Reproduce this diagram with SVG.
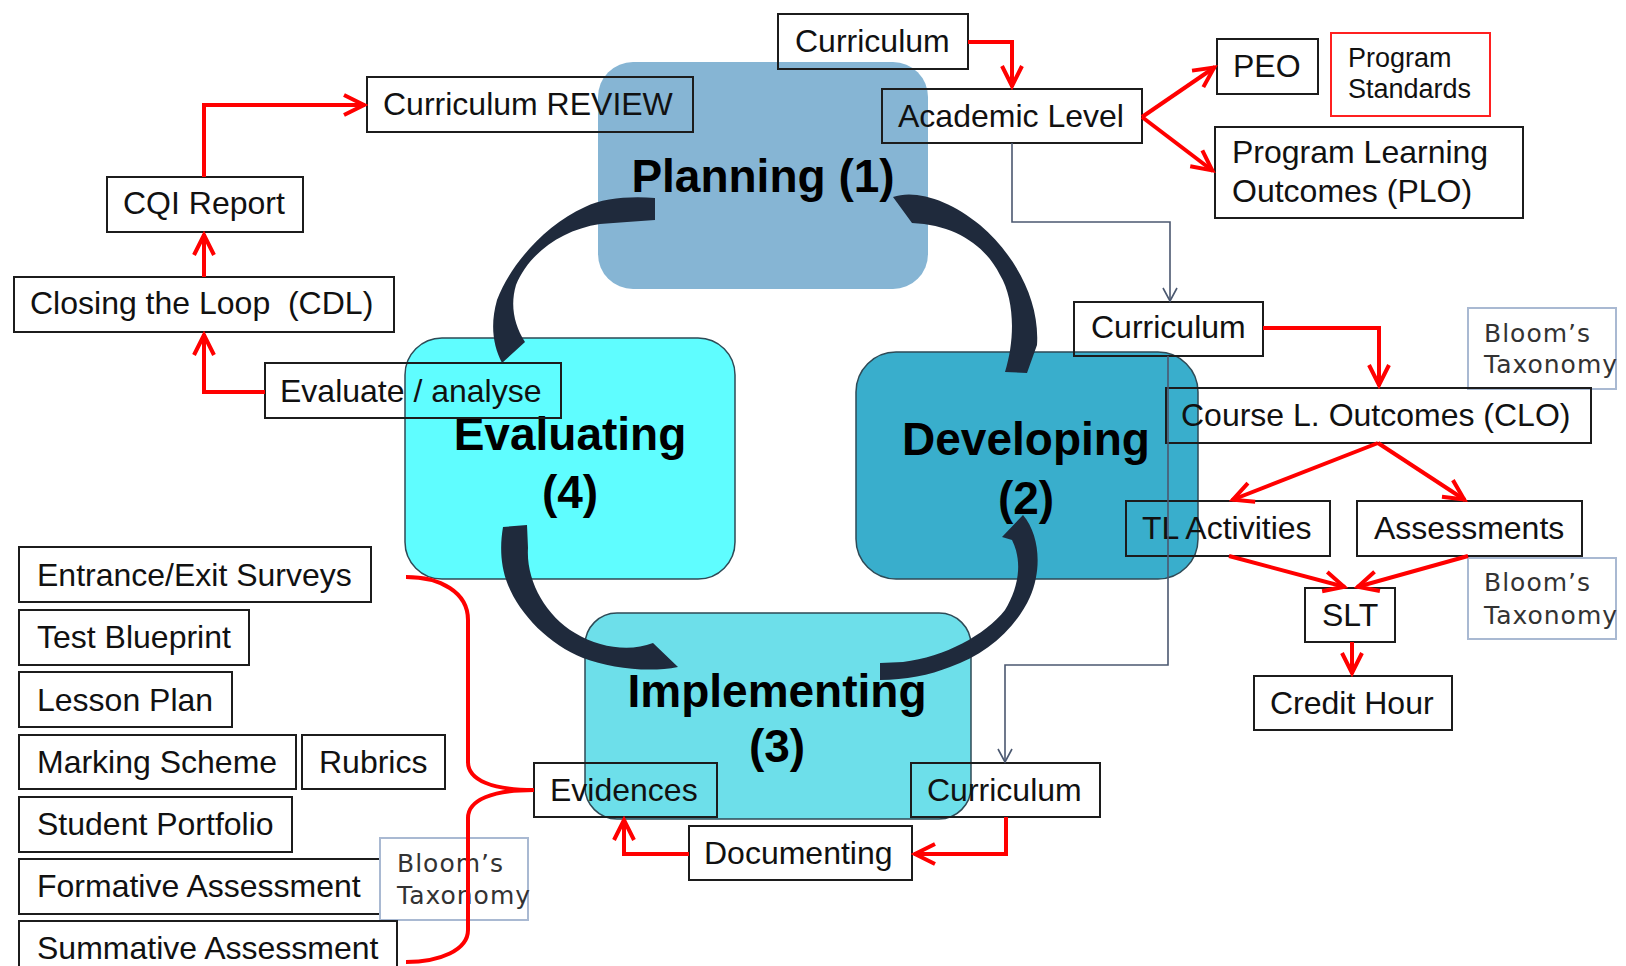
<svg xmlns="http://www.w3.org/2000/svg" width="1626" height="966" viewBox="0 0 1626 966">
<defs>
<style>
.box{fill:none;stroke:#1c1c1c;stroke-width:2}
.bbox{fill:none;stroke:#a9b9d2;stroke-width:2}
.rbox{fill:none;stroke:#ff2020;stroke-width:2}
.t{font-family:"Liberation Sans",Arial,sans-serif;font-size:32px;fill:#111}
.ts{font-family:"Liberation Sans",Arial,sans-serif;font-size:27px;fill:#111}
.bl{font-family:"DejaVu Sans",sans-serif;font-size:25px;letter-spacing:1px;fill:#333}
.big{font-family:"Liberation Sans",Arial,sans-serif;font-size:46px;font-weight:bold;fill:#000;text-anchor:middle}
.red{fill:none;stroke:#ff0000;stroke-width:4;marker-end:url(#ra)}
.redb{fill:none;stroke:#ff0000;stroke-width:4}
.grey{fill:none;stroke:#4b5870;stroke-width:1.6;marker-end:url(#ga)}
.carrow{fill:#1f2a3c}
.blob{stroke:#2e4a56;stroke-width:1.5}
</style>
<marker id="ra" viewBox="-24 -14 28 28" refX="1" refY="0" markerWidth="28" markerHeight="28" markerUnits="userSpaceOnUse" orient="auto">
<path d="M-20,-10 L0,0 L-20,10" fill="none" stroke="#ff0000" stroke-width="4"/>
</marker>
<marker id="ga" viewBox="-16 -10 18 20" refX="0" refY="0" markerWidth="18" markerHeight="20" markerUnits="userSpaceOnUse" orient="auto">
<path d="M-13,-7 L0,0 L-13,7" fill="none" stroke="#4b5870" stroke-width="1.6"/>
</marker>
</defs>
<rect width="1626" height="966" fill="#ffffff"/>

<g id="planning">
<rect x="598" y="62" width="330" height="227" rx="35" fill="#86b5d4"/>
<text class="big" x="763" y="192">Planning (1)</text>
</g>
<g id="evaluating">
<rect class="blob" x="405" y="338" width="330" height="241" rx="37" fill="#5ffdff"/>
<text class="big" x="570" y="450">Evaluating</text>
<text class="big" x="570" y="508">(4)</text>
</g>
<g id="developing">
<rect class="blob" x="856" y="352" width="342" height="227" rx="40" fill="#39aecc"/>
<text class="big" x="1026" y="455">Developing</text>
<text class="big" x="1026" y="514">(2)</text>
</g>
<g id="implementing">
<rect class="blob" x="585" y="613" width="386" height="206" rx="32" fill="#6ddfea"/>
<text class="big" x="777" y="707">Implementing</text>
<text class="big" x="777" y="762">(3)</text>
</g>

<g id="curriculum-top"><rect class="box" x="778" y="14" width="190" height="55"/><text class="t" x="795" y="52">Curriculum</text></g>
<g id="curriculum-review"><rect class="box" x="367" y="77" width="326" height="55"/><text class="t" x="383" y="115">Curriculum REVIEW</text></g>
<g id="academic-level"><rect class="box" x="882" y="89" width="260" height="54"/><text class="t" x="898" y="127">Academic Level</text></g>
<g id="peo"><rect class="box" x="1217" y="39" width="101" height="55"/><text class="t" x="1233" y="77">PEO</text></g>
<g id="program-standards"><rect class="rbox" x="1331" y="33" width="159" height="83"/><text class="ts" x="1348" y="67">Program</text><text class="ts" x="1348" y="98">Standards</text></g>
<g id="plo"><rect class="box" x="1215" y="127" width="308" height="91"/><text class="t" x="1232" y="163">Program Learning</text><text class="t" x="1232" y="202">Outcomes (PLO)</text></g>
<g id="cqi"><rect class="box" x="107" y="177" width="196" height="55"/><text class="t" x="123" y="214">CQI Report</text></g>
<g id="closing"><rect class="box" x="14" y="277" width="380" height="55"/><text class="t" x="30" y="314" style="white-space:pre">Closing the Loop  (CDL)</text></g>
<g id="evaluate-analyse"><rect class="box" x="265" y="363" width="296" height="55"/><text class="t" x="280" y="402">Evaluate / analyse</text></g>
<g id="curriculum-right"><rect class="box" x="1074" y="302" width="189" height="54"/><text class="t" x="1091" y="338">Curriculum</text></g>
<g id="bloom-1"><rect class="bbox" x="1468" y="308" width="148" height="81"/><text class="bl" x="1484" y="342">Bloom’s</text><text class="bl" x="1484" y="373">Taxonomy</text></g>
<g id="clo"><rect class="box" x="1166" y="388" width="425" height="55"/><text class="t" x="1181" y="426">Course L. Outcomes (CLO)</text></g>
<g id="tl-activities"><rect class="box" x="1126" y="501" width="204" height="55"/><text class="t" x="1142" y="539">TL Activities</text></g>
<g id="assessments"><rect class="box" x="1357" y="501" width="225" height="55"/><text class="t" x="1374" y="539">Assessments</text></g>
<g id="bloom-2"><rect class="bbox" x="1468" y="558" width="148" height="81"/><text class="bl" x="1484" y="591">Bloom’s</text><text class="bl" x="1484" y="624">Taxonomy</text></g>
<g id="slt"><rect class="box" x="1305" y="588" width="90" height="54"/><text class="t" x="1322" y="626">SLT</text></g>
<g id="credit-hour"><rect class="box" x="1254" y="676" width="198" height="54"/><text class="t" x="1270" y="714">Credit Hour</text></g>
<g id="entrance-exit"><rect class="box" x="19" y="547" width="352" height="55"/><text class="t" x="37" y="586">Entrance/Exit Surveys</text></g>
<g id="test-blueprint"><rect class="box" x="19" y="610" width="230" height="55"/><text class="t" x="37" y="648">Test Blueprint</text></g>
<g id="lesson-plan"><rect class="box" x="19" y="672" width="213" height="55"/><text class="t" x="37" y="711">Lesson Plan</text></g>
<g id="marking-scheme"><rect class="box" x="19" y="735" width="277" height="54"/><text class="t" x="37" y="773">Marking Scheme</text></g>
<g id="rubrics"><rect class="box" x="302" y="735" width="143" height="54"/><text class="t" x="319" y="773">Rubrics</text></g>
<g id="student-portfolio"><rect class="box" x="19" y="797" width="273" height="55"/><text class="t" x="37" y="835">Student Portfolio</text></g>
<g id="formative"><rect class="box" x="19" y="859" width="361" height="55"/><text class="t" x="37" y="897">Formative Assessment</text></g>
<g id="bloom-3"><rect class="bbox" x="380" y="838" width="148" height="82"/><text class="bl" x="397" y="872">Bloom’s</text><text class="bl" x="397" y="904">Taxonomy</text></g>
<g id="summative"><rect class="box" x="19" y="921" width="378" height="70"/><text class="t" x="37" y="959">Summative Assessment</text></g>
<g id="evidences"><rect class="box" x="534" y="763" width="183" height="54"/><text class="t" x="550" y="801">Evidences</text></g>
<g id="curriculum-bottom"><rect class="box" x="911" y="763" width="189" height="54"/><text class="t" x="927" y="801">Curriculum</text></g>
<g id="documenting"><rect class="box" x="689" y="826" width="223" height="54"/><text class="t" x="704" y="864">Documenting</text></g>

<g id="connectors">
<path class="red" d="M204,177 L204,105 L365,105"/>
<path class="red" d="M204,277 L204,234"/>
<path class="red" d="M265,392 L204,392 L204,334"/>
<path class="red" d="M968,42 L1012,42 L1012,87"/>
<path class="red" d="M1142,117 L1215,67"/>
<path class="red" d="M1142,117 L1213,171"/>
<path class="red" d="M1263,328 L1379,328 L1379,386"/>
<path class="red" d="M1378,443 L1232,500"/>
<path class="red" d="M1378,443 L1465,500"/>
<path class="red" d="M1229,556 L1345,587"/>
<path class="red" d="M1468,556 L1357,587"/>
<path class="red" d="M1352,642 L1352,674"/>
<path class="red" d="M1006,817 L1006,854 L914,854"/>
<path class="red" d="M689,854 L624,854 L624,819"/>
<path class="redb" d="M406,577 C440,577 468,592 468,620 L468,762 C468,780 492,790 534,790 C492,790 468,800 468,818 L468,930 C468,950 440,962 406,962"/>
<path class="grey" d="M1012,143 L1012,222 L1170,222 L1170,301"/>
<path class="grey" d="M1168,356 L1168,665 L1005,665 L1005,762"/>
</g>

<g id="cycle-arrows">
<path class="carrow" d="M655,198 C630,196 603,198 585,207 C545,225 510,265 497,300 C490,325 493,345 502,363 L525,342 C514,325 510,305 516,285 C528,255 560,230 600,224 L627,222 L655,220 Z"/>
<path class="carrow" d="M893,197 C915,189 950,200 980,225 C1015,255 1040,300 1037,345 L1027,373 L1005,372 C1015,340 1015,300 1000,275 C985,245 955,225 912,223 Z"/>
<path class="carrow" d="M503,527 L527,525 L528,548 C526,580 545,615 575,633 C600,648 630,652 653,643 L678,667 C648,673 610,668 583,658 C550,645 520,615 508,585 C500,565 500,545 503,527 Z"/>
<path class="carrow" d="M1023,515 C1040,535 1042,570 1030,597 C1015,630 985,655 950,667 C930,675 905,680 880,680 L880,663 L903,662 C945,657 985,635 1005,610 C1020,585 1022,560 1012,540 L1002,537 Z"/>
</g>
</svg>
